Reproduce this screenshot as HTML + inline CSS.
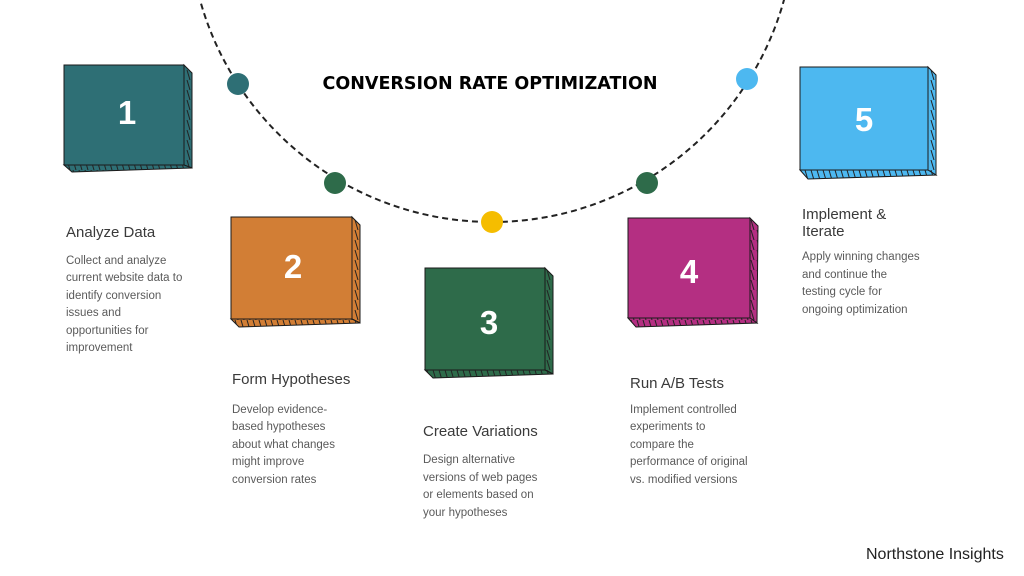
<!DOCTYPE html>
<html><head><meta charset="utf-8"><style>
html,body{margin:0;padding:0;background:#fff;width:1024px;height:576px;overflow:hidden}
svg{display:block}
.h{font-family:"Liberation Sans",sans-serif;font-size:15px;fill:#3a3a3a}
.b{font-family:"Liberation Sans",sans-serif;font-size:11.5px;fill:#5a5a5a}
.n{font-family:"Liberation Sans",sans-serif;font-size:33px;font-weight:bold;fill:#fff;text-anchor:middle}
</style></head><body>
<svg width="1024" height="576" viewBox="0 0 1024 576" xmlns="http://www.w3.org/2000/svg">
<defs>
<pattern id="hv" width="6" height="10" patternUnits="userSpaceOnUse"><line x1="1" y1="0" x2="4" y2="10" stroke="#222" stroke-width="1"/></pattern>
</defs>
<circle cx="492" cy="-81" r="303" fill="none" stroke="#222" stroke-width="2" stroke-dasharray="6,4"/>
<circle cx="238" cy="84" r="11" fill="#2e6f75"/>
<circle cx="335" cy="183" r="11" fill="#2e6b4a"/>
<circle cx="492" cy="222" r="11" fill="#f5bd00"/>
<circle cx="647" cy="183" r="11" fill="#2e6b4a"/>
<circle cx="747" cy="79" r="11" fill="#4db8f0"/>
<text x="490" y="89" text-anchor="middle" font-family="DejaVu Sans,sans-serif" font-weight="bold" font-size="18" fill="#000" textLength="335" lengthAdjust="spacingAndGlyphs">CONVERSION RATE OPTIMIZATION</text>

<g>
<rect x="64" y="65" width="120" height="100" fill="#2e6f75" stroke="#1a1a1a" stroke-width="1"/>
<polygon points="184,65 192,73 192,168 184,165" fill="#2e6f75" stroke="#1a1a1a"/><polygon points="184,65 192,73 192,168 184,165" fill="url(#hv)"/>
<polygon points="64,165 184,165 192,168 72,172" fill="#2e6f75" stroke="#1a1a1a"/><polygon points="64,165 184,165 192,168 72,172" fill="url(#hv)"/>
<text class="n" x="127" y="124">1</text>
</g>
<g>
<rect x="231" y="217" width="121" height="102" fill="#d27e35" stroke="#1a1a1a"/>
<polygon points="352,217 360,225 360,323 352,319" fill="#d27e35" stroke="#1a1a1a"/><polygon points="352,217 360,225 360,323 352,319" fill="url(#hv)"/>
<polygon points="231,319 352,319 360,323 239,327" fill="#d27e35" stroke="#1a1a1a"/><polygon points="231,319 352,319 360,323 239,327" fill="url(#hv)"/>
<text class="n" x="293" y="278">2</text>
</g>
<g>
<rect x="425" y="268" width="120" height="102" fill="#2e6b4a" stroke="#1a1a1a"/>
<polygon points="545,268 553,276 553,374 545,370" fill="#2e6b4a" stroke="#1a1a1a"/><polygon points="545,268 553,276 553,374 545,370" fill="url(#hv)"/>
<polygon points="425,370 545,370 553,374 433,378" fill="#2e6b4a" stroke="#1a1a1a"/><polygon points="425,370 545,370 553,374 433,378" fill="url(#hv)"/>
<text class="n" x="489" y="334">3</text>
</g>
<g>
<rect x="628" y="218" width="122" height="100" fill="#b42f82" stroke="#1a1a1a"/>
<polygon points="750,218 758,226 757,323 750,318" fill="#b42f82" stroke="#1a1a1a"/><polygon points="750,218 758,226 757,323 750,318" fill="url(#hv)"/>
<polygon points="628,318 750,318 757,323 636,327" fill="#b42f82" stroke="#1a1a1a"/><polygon points="628,318 750,318 757,323 636,327" fill="url(#hv)"/>
<text class="n" x="689" y="283">4</text>
</g>
<g>
<rect x="800" y="67" width="128" height="103" fill="#4db8f0" stroke="#1a1a1a"/>
<polygon points="928,67 936,75 936,175 928,170" fill="#4db8f0" stroke="#1a1a1a"/><polygon points="928,67 936,75 936,175 928,170" fill="url(#hv)"/>
<polygon points="800,170 928,170 936,175 808,179" fill="#4db8f0" stroke="#1a1a1a"/><polygon points="800,170 928,170 936,175 808,179" fill="url(#hv)"/>
<text class="n" x="864" y="131">5</text>
</g>

<text class="h" x="66" y="237">Analyze Data</text>
<text class="b" x="66" y="264">Collect and analyze</text><text class="b" x="66" y="281">current website data to</text><text class="b" x="66" y="299">identify conversion</text><text class="b" x="66" y="316">issues and</text><text class="b" x="66" y="334">opportunities for</text><text class="b" x="66" y="351">improvement</text>

<text class="h" x="232" y="384">Form Hypotheses</text>
<text class="b" x="232" y="413">Develop evidence-</text><text class="b" x="232" y="430">based hypotheses</text><text class="b" x="232" y="448">about what changes</text><text class="b" x="232" y="465">might improve</text><text class="b" x="232" y="483">conversion rates</text>

<text class="h" x="423" y="436">Create Variations</text>
<text class="b" x="423" y="463">Design alternative</text><text class="b" x="423" y="481">versions of web pages</text><text class="b" x="423" y="498">or elements based on</text><text class="b" x="423" y="516">your hypotheses</text>

<text class="h" x="630" y="388">Run A/B Tests</text>
<text class="b" x="630" y="413">Implement controlled</text><text class="b" x="630" y="430">experiments to</text><text class="b" x="630" y="448">compare the</text><text class="b" x="630" y="465">performance of original</text><text class="b" x="630" y="483">vs. modified versions</text>

<text class="h" x="802" y="219">Implement &amp;</text>
<text class="h" x="802" y="236">Iterate</text>
<text class="b" x="802" y="260">Apply winning changes</text><text class="b" x="802" y="278">and continue the</text><text class="b" x="802" y="295">testing cycle for</text><text class="b" x="802" y="313">ongoing optimization</text>

<text x="866" y="559" font-family="Liberation Sans,sans-serif" font-size="16" fill="#222">Northstone Insights</text>
</svg>
</body></html>
